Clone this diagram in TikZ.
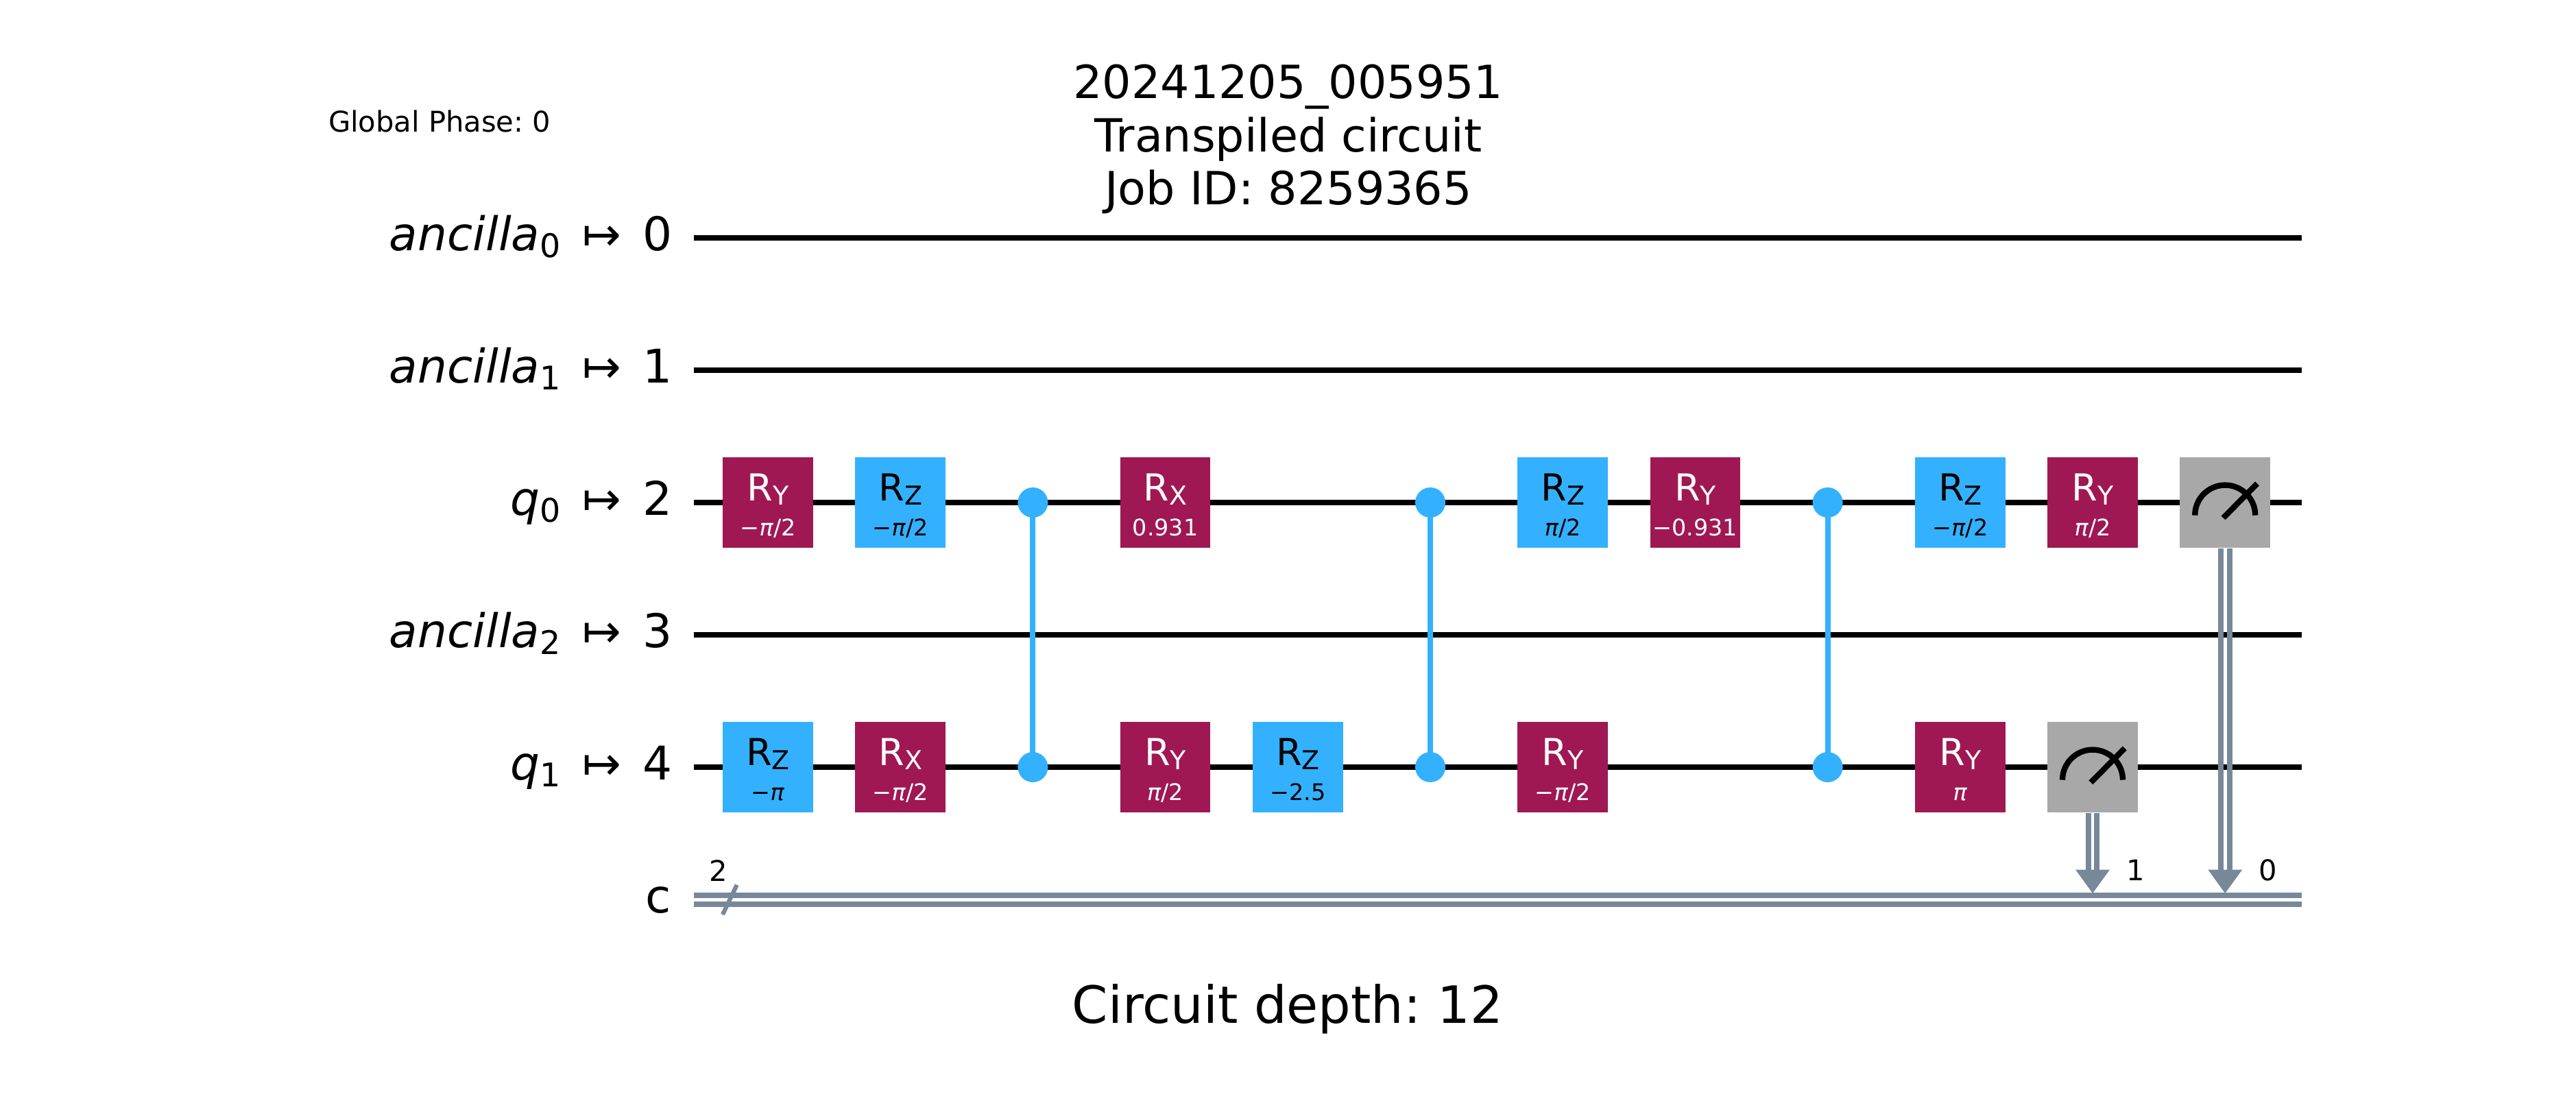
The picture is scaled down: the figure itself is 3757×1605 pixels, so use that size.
\documentclass[tikz,border=0pt]{standalone}
\usepackage{fontspec}
\setmainfont{DejaVu Sans}
\usetikzlibrary{calc}
\frenchspacing
\definecolor{gblue}{HTML}{33B1FF}
\definecolor{gmag}{HTML}{9F1853}
\definecolor{ggray}{HTML}{A8A8A8}
\definecolor{cgray}{HTML}{778899}
\newcommand{\fs}[1]{\fontsize{#1}{#1}\selectfont}
\newcommand{\pia}{\textit{π}}
\tikzset{
  wire/.style={black,line width=1.92pt},
  cline/.style={cgray,line width=1.92pt},
  czline/.style={gblue,line width=1.92pt},
  gatebox/.style={rectangle,minimum width=31.6pt,minimum height=31.6pt,inner sep=0pt,draw=none},
  ctrl/.style={circle,fill=gblue,minimum size=10.56pt,inner sep=0pt,draw=none},
  txt/.style={inner sep=0pt,outer sep=0pt,anchor=base},
  reg/.style={inner sep=0pt,outer sep=0pt,anchor=base east},
}
% \qgate{name}{x}{y}{fill}{text colour}{axis}{param}
\newcommand{\qgate}[7]{%
  \node[gatebox,fill=#4] (#1) at (#2,#3) {};
  \node[txt,text=#5] (#1t) at ($(#1.center)+(0,-3)$) {\fs{13}R\raisebox{-1.44pt}{\fs{9.1}#6}};
  \node[txt,text=#5] (#1p) at ($(#1.center)+(0,48.7)$) {\fs{8}#7};
}
% \qmeas{name}{x}{y}
\newcommand{\qmeas}[3]{%
  \node[gatebox,fill=ggray] (#1) at (#2,#3) {};
  \draw[black,line width=2pt] ($(#1.center)+(-44,18.6)$) arc[start angle=180,end angle=0,radius=10.56pt];
  \draw[black,line width=2pt] ($(#1.center)+(-2.6,22.4)$) -- ($(#1.center)+(46.8,-27.6)$);
}
% \reglab{name}{y}{italic}{sub}{num}
\newcommand{\reglab}[5]{%
  \node[reg] (#1) at (981,#2+18.7) {\fs{16.25}\textit{#3}\raisebox{-2.4pt}{\fs{11.4}#4}\hspace{0.47em}↦\hspace{0.47em}#5};
}
\begin{document}
\begin{tikzpicture}[x=0.24pt,y=-0.24pt]
\useasboundingbox (0,0) rectangle (3757,1605);
% wire end points
\foreach \n/\yy in {0/346.5,1/540,2/733,3/926,4/1119}{
  \coordinate (w\n s) at (1012,\yy);
  \coordinate (w\n e) at (3357,\yy);
  \draw[wire] (w\n s) -- (w\n e);
}
\coordinate (cs) at (1012,1312.5);
\coordinate (ce) at (3357,1312.5);
\draw[cline] ($(cs)+(0,-6.35)$) -- ($(ce)+(0,-6.35)$);
\draw[cline] ($(cs)+(0,6.35)$) -- ($(ce)+(0,6.35)$);
\coordinate (sla) at (1054,1334);
\coordinate (slb) at (1074.7,1290.7);
\draw[cgray,line width=1.5pt] (sla) -- (slb);
% titles
\node[txt,anchor=base west] (gp) at (479,192.7) {\fs{10}Global Phase: 0};
\node[txt] (t1) at (1879,143.3) {\fs{16}20241205\_005951};
\node[txt] (t2) at (1879,221) {\fs{16}Transpiled circuit};
\node[txt] (t3) at (1879,298.7) {\fs{16}Job ID: 8259365};
\node[txt] (depth) at (1878,1492) {\fs{18}Circuit depth: 12};
% register labels
\reglab{l0}{346.5}{ancilla}{0}{0}
\reglab{l1}{540}{ancilla}{1}{1}
\reglab{l2}{733}{q}{0}{2}
\reglab{l3}{926}{ancilla}{2}{3}
\reglab{l4}{1119}{q}{1}{4}
\node[reg] (lc) at (979,1331) {\fs{16.25}c};
\node[txt] (cn) at (1048,1285) {\fs{10}2};
% wire 2 gates
\qgate{a0}{1120}{733}{gmag}{white}{Y}{−\pia/2}
\qgate{a1}{1313.2}{733}{gblue}{black}{Z}{−\pia/2}
\qgate{a3}{1699.6}{733}{gmag}{white}{X}{0.931}
\qgate{a6}{2279.2}{733}{gblue}{black}{Z}{\pia/2}
\qgate{a7}{2472.4}{733}{gmag}{white}{Y}{−0.931}
\qgate{a9}{2858.8}{733}{gblue}{black}{Z}{−\pia/2}
\qgate{a10}{3052}{733}{gmag}{white}{Y}{\pia/2}
\qmeas{ma}{3245.2}{733}
% wire 4 gates
\qgate{b0}{1120}{1119}{gblue}{black}{Z}{−\pia}
\qgate{b1}{1313.2}{1119}{gmag}{white}{X}{−\pia/2}
\qgate{b3}{1699.6}{1119}{gmag}{white}{Y}{\pia/2}
\qgate{b4}{1892.8}{1119}{gblue}{black}{Z}{−2.5}
\qgate{b6}{2279.2}{1119}{gmag}{white}{Y}{−\pia/2}
\qgate{b9}{2858.8}{1119}{gmag}{white}{Y}{\pia}
\qmeas{mb}{3052}{1119}
% controlled-Z
\foreach \n/\xx in {1/1506.4,2/2086,3/2665.6}{
  \node[ctrl] (cz\n a) at (\xx,733) {};
  \node[ctrl] (cz\n b) at (\xx,1119) {};
  \draw[czline] (cz\n a.center) -- (cz\n b.center);
}
% measurement connectors
\coordinate (ta) at (3245.2,1303);
\coordinate (tb) at (3052,1303);
\foreach \m/\t in {ma/ta,mb/tb}{
  \draw[cline] ($(\m.south)+(-6.35,0)$) -- ($(\t)+(-6.35,-30)$);
  \draw[cline] ($(\m.south)+(6.35,0)$) -- ($(\t)+(6.35,-30)$);
  \fill[cgray] (\t) -- ++(-25,-34.5) -- ++(50,0) -- cycle;
}
\node[txt] (n1) at (3115,1284) {\fs{10}1};
\node[txt] (n0) at (3307.7,1284) {\fs{10}0};
\end{tikzpicture}
\end{document}
